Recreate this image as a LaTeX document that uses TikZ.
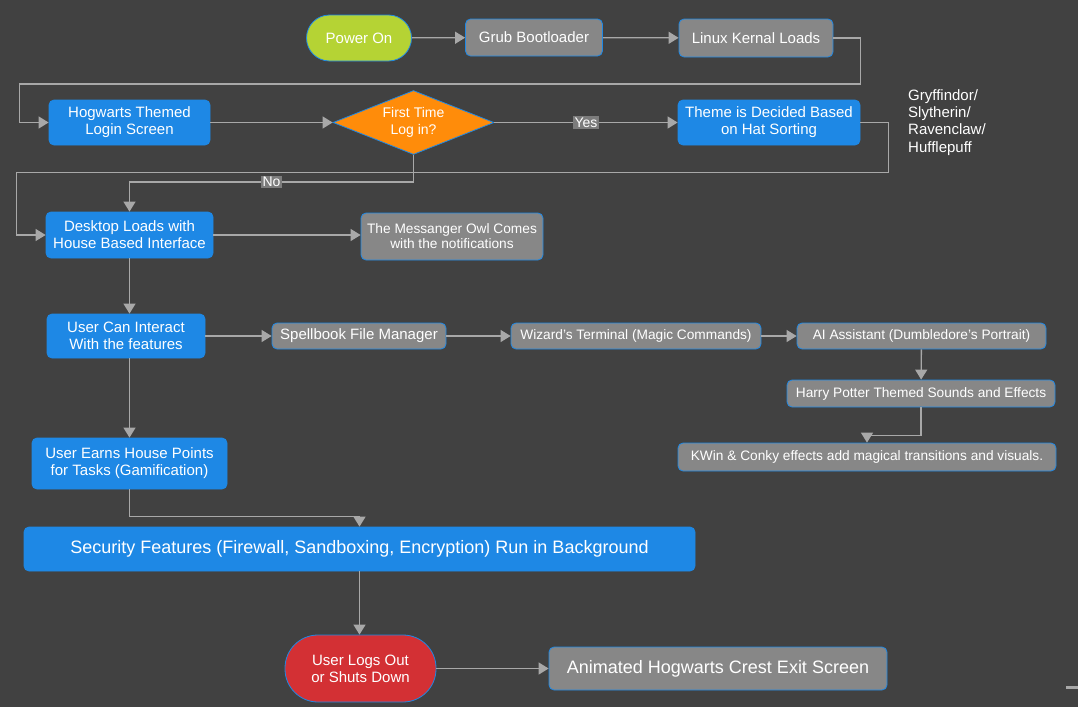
\documentclass[tikz,border=0pt]{standalone}
\usepackage{fontspec}
\setmainfont{Liberation Sans}
\usetikzlibrary{arrows.meta,shapes.geometric}
\definecolor{bgdark}{HTML}{414141}
\definecolor{boxblue}{HTML}{1E88E5}
\definecolor{boxgray}{HTML}{878787}
\definecolor{taggray}{HTML}{7C7C7C}
\definecolor{startgreen}{HTML}{B5D334}
\definecolor{stopred}{HTML}{D33034}
\definecolor{decorange}{HTML}{FF8C0A}
\definecolor{linegray}{HTML}{A8A8A8}
\begin{document}
\begin{tikzpicture}[x=1pt, y=-1pt,
  box/.style={draw=boxblue, line width=0.8pt, rounded corners=5pt, align=center, inner sep=2pt, text=white, font=\fontsize{15}{17}\selectfont},
  bluebox/.style={box, fill=boxblue},
  graybox/.style={box, fill=boxgray},
  smallgray/.style={graybox, font=\fontsize{13.7}{16}\selectfont},
  pill/.style={box, rounded corners=#1},
  decision/.style={diamond, aspect=2.5, draw=boxblue, line width=0.8pt, fill=decorange, text=white, align=center, inner sep=0pt, minimum width=161pt, minimum height=64pt, font=\fontsize{14}{16.5}\selectfont},
  tag/.style={fill=taggray, text=white, inner sep=1.5pt, font=\fontsize{14}{16}\selectfont},
  arr/.style={-{Triangle[length=10pt, width=12pt]}, draw=linegray, line width=1.3pt}
]
\fill[bgdark] (0,0) rectangle (1078,707);
% boot sequence
\node[pill=23pt, fill=startgreen, minimum width=105pt, minimum height=46pt] (power) at (359,38) {Power On};
\node[graybox, minimum width=137pt, minimum height=37pt] (grub) at (534,37.5) {Grub Bootloader};
\node[graybox, minimum width=154pt, minimum height=38pt] (kernel) at (756,38) {Linux Kernal Loads};
% login and sorting
\node[bluebox, minimum width=161pt, minimum height=45pt] (login) at (129.5,122.5) {Hogwarts Themed\\Login Screen};
\node[decision] (first) at (413.5,122.5) {First Time\\Log in?};
\node[bluebox, minimum width=182pt, minimum height=45pt] (theme) at (769,122.5) {Theme is Decided Based\\on Hat Sorting};
\node[text=white, align=left, anchor=north west, inner sep=0pt, font=\fontsize{15}{17.4}\selectfont] (houses) at (908,89) {Gryffindor/\\Slytherin/\\Ravenclaw/\\Hufflepuff};
% desktop
\node[bluebox, minimum width=167pt, minimum height=46pt] (desktop) at (129.5,235) {Desktop Loads with\\House Based Interface};
\node[graybox, minimum width=182pt, minimum height=47pt, font=\fontsize{13.7}{15}\selectfont] (owl) at (452,236.5) {The Messanger Owl Comes\\with the notifications};
\node[bluebox, minimum width=158pt, minimum height=44pt] (interact) at (126,336) {User Can Interact\\With the features};
% features
\node[graybox, minimum width=174pt, minimum height=26pt] (spell) at (359,336) {Spellbook File Manager};
\node[smallgray, minimum width=250pt, minimum height=26pt] (terminal) at (636,336) {Wizard’s Terminal (Magic Commands)};
\node[smallgray, minimum width=249pt, minimum height=26pt] (assist) at (921.5,336) {AI Assistant (Dumbledore’s Portrait)};
\node[smallgray, minimum width=268pt, minimum height=27pt] (sounds) at (921,393.5) {Harry Potter Themed Sounds and Effects};
\node[smallgray, minimum width=378pt, minimum height=28pt] (kwin) at (867,457) {KWin \& Conky effects add magical transitions and visuals.};
\node[bluebox, minimum width=195pt, minimum height=51pt] (points) at (129.5,463.5) {User Earns House Points\\for Tasks (Gamification)};
% shutdown
\node[bluebox, minimum width=671pt, minimum height=44pt, font=\fontsize{18}{20}\selectfont] (security) at (359.5,549) {Security Features (Firewall, Sandboxing, Encryption) Run in Background};
\node[pill=33pt, fill=stopred, minimum width=151pt, minimum height=67pt] (logout) at (360.5,668.5) {User Logs Out\\or Shuts Down};
\node[graybox, minimum width=338pt, minimum height=43pt, font=\fontsize{18}{20}\selectfont] (crest) at (718,668.5) {Animated Hogwarts Crest Exit Screen};
% connectors
\draw[arr] (power) -- (grub);
\draw[arr] (grub) -- (kernel);
\draw[arr] (kernel.east) -- ++(27,0) -- ++(0,46) -| ([xshift=-29pt]login.west) -- (login.west);
\draw[arr] (login) -- (first);
\draw[arr] (first.east) -- node[tag] {Yes} (theme.west);
\draw[arr] (theme.east) -- ++(28,0) -- ++(0,50) -| ([xshift=-29pt]desktop.west) -- (desktop.west);
\draw[arr] (first.south) -- ++(0,27) -| node[tag, pos=0.25] {No} (desktop.north);
\draw[arr] (desktop.east) -- (desktop.east -| owl.west);
\draw[arr] (desktop.south) -- (interact.north -| desktop.south);
\draw[arr] (interact.east) -- (spell.west);
\draw[arr] (spell) -- (terminal);
\draw[arr] (terminal) -- (assist);
\draw[arr] (assist) -- (sounds);
\draw[arr] (sounds.south) -- ++(0,28) -| (kwin.north);
\draw[arr] (interact.south -| points.north) -- (points.north);
\draw[arr] (points.south) -- ++(0,27) -| (security.north);
\draw[arr] (security.south) -- (logout.north -| security.south);
\draw[arr] (logout) -- (crest);
\fill[linegray] (1066,686) rectangle (1078,689);
\end{tikzpicture}
\end{document}
